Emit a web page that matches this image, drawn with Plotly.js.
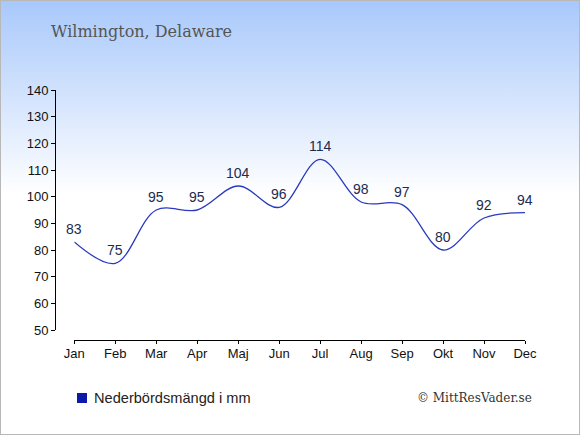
<!DOCTYPE html>
<html><head><meta charset="utf-8">
<script src="https://cdn.plot.ly/plotly-3.0.1.min.js"></script>
<style>
html,body{margin:0;padding:0;}
#wrap{position:relative;width:580px;height:435px;background:linear-gradient(to bottom,#a8c8fb 0px,#ffffff 195px,#ffffff 435px);}
#chart{position:absolute;left:0;top:0;width:580px;height:435px;}
#border{position:absolute;left:0;top:0;width:578px;height:433px;border:1px solid #b8b8b8;pointer-events:none;}
</style></head>
<body>
<div id="wrap"><div id="chart"></div><div id="border"></div></div>
<script>
const months = ["Jan","Feb","Mar","Apr","Maj","Jun","Jul","Aug","Sep","Okt","Nov","Dec"];
const precipitation = [83,75,95,95,104,96,114,98,97,80,92,94];
const yTicks = [50,60,70,80,90,100,110,120,130,140];
const titleText = "Wilmington, Delaware";
const legendText = "Nederbördsmängd i mm";
const creditText = "© MittResVader.se";

const trace = {
  x: months, y: precipitation,
  type: "scatter", mode: "lines",
  line: {color: "#2a3ac0", width: 1.3, shape: "spline", smoothing: 1},
  hoverinfo: "none"
};

const valueLabels = months.map((m, i) => ({
  x: m, y: precipitation[i], xref: "x", yref: "y", text: String(precipitation[i]),
  showarrow: false, yshift: 13, xanchor: "center", yanchor: "middle",
  font: {family: "Liberation Sans, Arial, sans-serif", size: 14, color: "#1c2b50"}
}));

const layout = {
  width: 580, height: 435,
  margin: {l: 55, r: 55, t: 90, b: 95},
  paper_bgcolor: "rgba(0,0,0,0)", plot_bgcolor: "rgba(0,0,0,0)",
  showlegend: false,
  title: {text: titleText, xref: "container", yref: "container", x: 51/580, xanchor: "left",
          y: 1 - 31/435, yanchor: "middle",
          font: {family: "DejaVu Serif, serif", size: 16, color: "#555555"}},
  xaxis: {type: "category", range: [0, 11], domain: [19.3/470, 1], anchor: "free", position: 0,
          showline: true, linecolor: "#000", linewidth: 1.2, ticks: "outside", ticklen: 3, tickcolor: "#000",
          ticklabelstandoff: -2,
          showgrid: false, zeroline: false, fixedrange: true,
          tickfont: {family: "Liberation Sans, Arial, sans-serif", size: 13, color: "#111"}},
  yaxis: {range: [50, 140], domain: [10/250, 1], anchor: "free", position: 0,
          tickvals: yTicks, showline: true, linecolor: "#000", linewidth: 1.2, ticks: "outside", ticklen: 4,
          tickcolor: "#000", showgrid: false, zeroline: false, fixedrange: true,
          tickfont: {family: "Liberation Sans, Arial, sans-serif", size: 13, color: "#111"}},
  shapes: [{type: "rect", xref: "paper", yref: "paper",
            x0: (77-55)/470, x1: (87-55)/470, y0: (340-403)/250, y1: (340-393)/250,
            fillcolor: "#0b1aa8", line: {width: 0}}],
  annotations: valueLabels.concat([
    {text: legendText, xref: "paper", yref: "paper", x: (92-55)/470, y: (340-398)/250,
     xanchor: "left", yanchor: "middle", showarrow: false,
     font: {family: "Liberation Sans, Arial, sans-serif", size: 14.6, color: "#222"}},
    {text: creditText, xref: "paper", yref: "paper", x: (474-55)/470, y: (340-398)/250,
     xanchor: "center", yanchor: "middle", showarrow: false,
     font: {family: "DejaVu Serif, serif", size: 12, color: "#333"}}
  ])
};
Plotly.newPlot("chart", [trace], layout, {staticPlot: true, displayModeBar: false});
</script>
</body></html>
